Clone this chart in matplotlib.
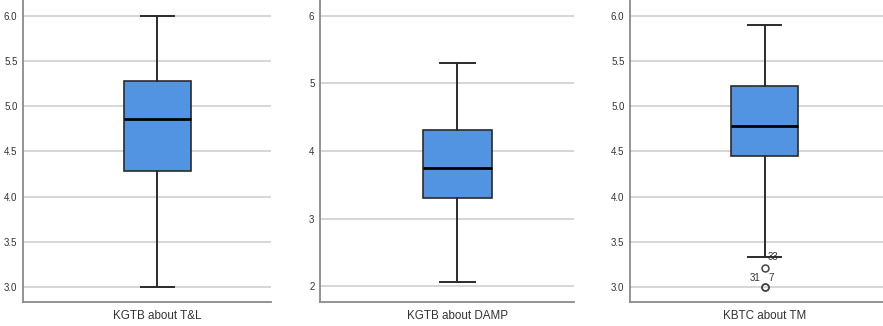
import matplotlib
matplotlib.use("Agg")
import matplotlib.pyplot as plt

plt.rcParams['font.family'] = ['Liberation Sans', 'DejaVu Sans']

# ---- data ----
labels = ["KGTB about T&L", "KGTB about DAMP", "KBTC about TM"]
q1 = [4.28, 3.30, 4.447]
med = [4.86, 3.75, 4.78]
q3 = [5.28, 4.31, 5.225]
whislo = [3.0, 2.06, 3.33]
whishi = [6.0, 5.31, 5.90]
fliers = [[], [], [3.21, 3.0, 3.0]]
outlier_ids = [[], [], ["33", "31", "7"]]
yticks = [[3.0, 3.5, 4.0, 4.5, 5.0, 5.5, 6.0],
          [2, 3, 4, 5, 6],
          [3.0, 3.5, 4.0, 4.5, 5.0, 5.5, 6.0]]
yticklabels = [["3.0", "3.5", "4.0", "4.5", "5.0", "5.5", "6.0"],
               ["2", "3", "4", "5", "6"],
               ["3.0", "3.5", "4.0", "4.5", "5.0", "5.5", "6.0"]]
ylims = [(2.834, 6.177), (1.763, 6.237), (2.838, 6.173)]

# ---- layout ----
W, H = 883, 326
fig = plt.figure(figsize=(W / 100, H / 100), dpi=100)
panels = [(23, 271), (320, 574), (630, 883)]
positions = [0.542, 0.541, 0.532]
widths = [0.27, 0.272, 0.265]
bottom = 1 - 302 / H

box_color = "#5294E2"
edge = "#2b2b2b"
grid_c = "#d6d6d6"
spine_c = "#8a8a8a"

for i in range(3):
    l, r = panels[i]
    ax = fig.add_axes([l / W, bottom, (r - l) / W, 1 - bottom])
    stats = [dict(med=med[i], q1=q1[i], q3=q3[i], whislo=whislo[i],
                  whishi=whishi[i], fliers=fliers[i], label=labels[i])]
    ax.bxp(stats, positions=[positions[i]], widths=[widths[i]],
           patch_artist=True, showfliers=True,
           boxprops=dict(facecolor=box_color, edgecolor=edge, linewidth=1.2),
           medianprops=dict(color="black", linewidth=2.0),
           whiskerprops=dict(color=edge, linewidth=1.4),
           capprops=dict(color=edge, linewidth=1.4),
           capwidths=[widths[i] / 2],
           flierprops=dict(marker="o", markerfacecolor="none",
                           markeredgecolor="#444444", markersize=5,
                           markeredgewidth=1.1),
           zorder=3)
    ax.set_xlim(0, 1)
    ax.set_ylim(*ylims[i])
    ax.set_yticks(yticks[i])
    ax.set_yticklabels(yticklabels[i])
    ax.set_xticks([positions[i]])
    ax.set_xticklabels([labels[i]])
    ax.yaxis.grid(True, color=grid_c, linewidth=1.4, zorder=0)
    ax.set_axisbelow(True)
    ax.tick_params(axis="y", length=0, pad=4, labelsize=7, labelcolor="#333333")
    ax.tick_params(axis="x", length=0, pad=6, labelsize=8.4, labelcolor="#333333")
    for s in ["top", "right"]:
        ax.spines[s].set_visible(False)
    for s in ["left", "bottom"]:
        ax.spines[s].set_color(spine_c)
        ax.spines[s].set_linewidth(1.3)

    # outlier case labels
    if outlier_ids[i]:
        x0 = positions[i]
        ax.annotate(outlier_ids[i][0], (x0, whislo[i]), xytext=(2.5, 0),
                    textcoords="offset points", fontsize=7, color="#333333",
                    ha="left", va="center")
        ax.annotate(outlier_ids[i][1], (x0, fliers[i][1]), xytext=(-3, 7),
                    textcoords="offset points", fontsize=7, color="#333333",
                    ha="right", va="center")
        ax.annotate(outlier_ids[i][2], (x0, fliers[i][2]), xytext=(2.5, 7),
                    textcoords="offset points", fontsize=7, color="#333333",
                    ha="left", va="center")

fig.savefig("out.png", dpi=100)
